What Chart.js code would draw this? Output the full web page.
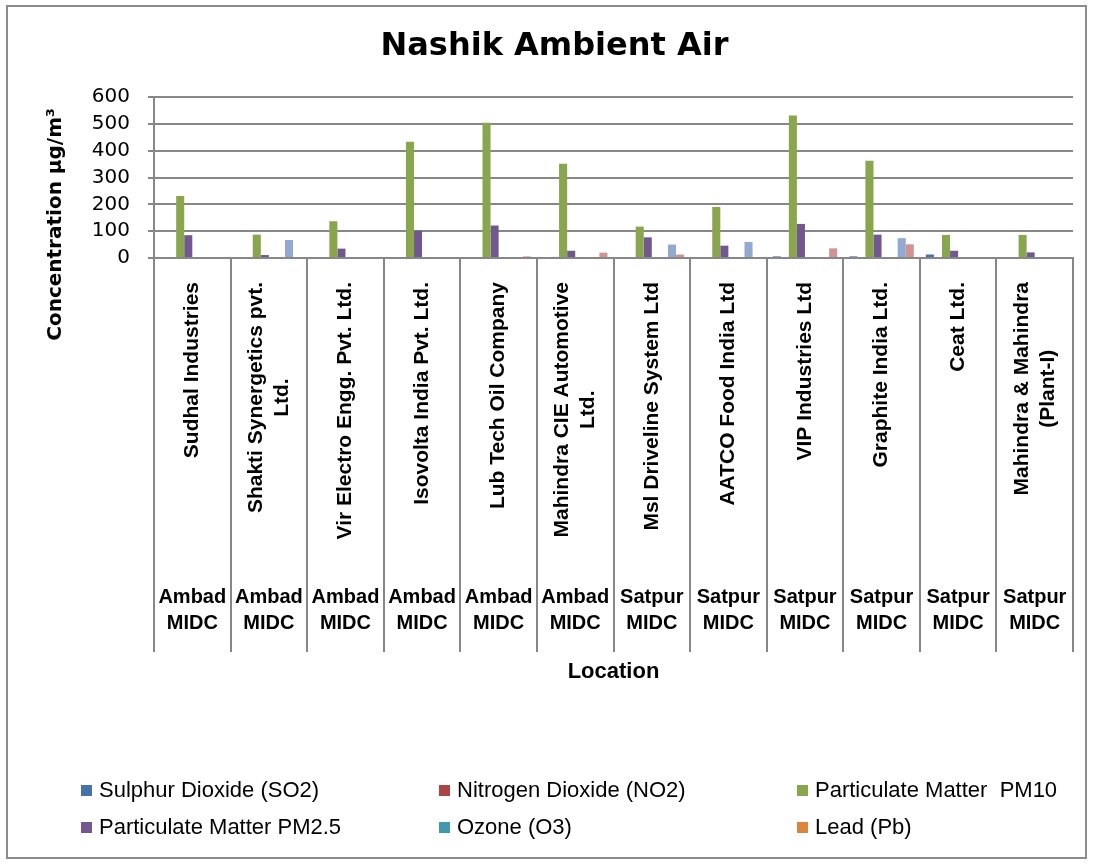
<!DOCTYPE html>
<html><head><meta charset="utf-8">
<script src="https://cdn.jsdelivr.net/npm/chart.js@4.4.1/dist/chart.umd.min.js"></script>
<style>
html,body{margin:0;padding:0;background:#fff;}
#wrap{position:relative;width:1095px;height:867px;}
#legend{position:absolute;left:0;top:0;width:1095px;height:867px;pointer-events:none;font-family:"Liberation Sans",Arial,sans-serif;font-size:22px;color:#000;}
.li{position:absolute;display:flex;align-items:center;white-space:pre;height:30px;line-height:30px;}
.sw{width:11px;height:11px;margin-right:7px;flex:none;}
</style></head>
<body><div id="wrap"><canvas id="c" width="1095" height="867"></canvas><div id="legend"></div></div>
<script>
const chartTitle = "Nashik Ambient Air";
const yTitle = "Concentration µg/m³";
const xTitle = "Location";
const categories = [
  ["Sudhal Industries"],
  ["Shakti Synergetics pvt.", "Ltd."],
  ["Vir Electro Engg. Pvt. Ltd."],
  ["Isovolta India Pvt. Ltd."],
  ["Lub Tech Oil Company"],
  ["Mahindra CIE Automotive", "Ltd."],
  ["Msl Driveline System Ltd"],
  ["AATCO Food India Ltd"],
  ["VIP Industries Ltd"],
  ["Graphite India Ltd."],
  ["Ceat Ltd."],
  ["Mahindra & Mahindra", "(Plant-I)"]
];
const locations = [
  ["Ambad", "MIDC"], ["Ambad", "MIDC"], ["Ambad", "MIDC"], ["Ambad", "MIDC"], ["Ambad", "MIDC"], ["Ambad", "MIDC"],
  ["Satpur", "MIDC"], ["Satpur", "MIDC"], ["Satpur", "MIDC"], ["Satpur", "MIDC"], ["Satpur", "MIDC"], ["Satpur", "MIDC"]
];
const seriesNames = ["Sulphur Dioxide (SO2)", "Nitrogen Dioxide (NO2)", "Particulate Matter  PM10",
  "Particulate Matter PM2.5", "Ozone (O3)", "Lead (Pb)", "Carbon Monoxide (CO)", "Ammonia (NH3)"];
const seriesColors = ["#4572A7", "#AA4643", "#89A54E", "#71588F", "#4198AF", "#DB843D", "#93A9CF", "#D19392"];
const so2   = [0, 0, 0, 0, 0, 0, 0, 0, 6, 6, 13, 0];
const no2   = [0, 0, 0, 0, 0, 4, 0, 0, 0, 0, 0, 0];
const pm10  = [231, 87, 137, 433, 504, 351, 117, 190, 531, 362, 86, 86];
const pm25  = [85, 11, 35, 102, 121, 27, 77, 46, 127, 87, 27, 21];
const o3    = [0, 0, 0, 0, 0, 0, 0, 0, 0, 0, 0, 0];
const pb    = [0, 0, 0, 0, 0, 0, 0, 0, 0, 0, 0, 0];
const co    = [0, 67, 0, 0, 0, 0, 50, 60, 0, 74, 0, 0];
const nh3   = [0, 0, 0, 0, 6, 20, 13, 0, 36, 51, 0, 0];
const yTicks = [0, 100, 200, 300, 400, 500, 600];
const legendShown = 6;

const seriesValues = [so2, no2, pm10, pm25, o3, pb, co, nh3];
const gridColor = "#878787";

const labelPlugin = {
  id: "excelLabels",
  beforeDraw(chart) {
    const ctx = chart.ctx;
    ctx.save(); ctx.fillStyle = "#fff"; ctx.fillRect(0, 0, chart.width, chart.height); ctx.restore();
  },
  afterDraw(chart) {
    const ctx = chart.ctx, xs = chart.scales.x, area = chart.chartArea;
    ctx.save();
    ctx.fillStyle = "#000";
    ctx.textBaseline = "middle";
    ctx.textAlign = "center";
    ctx.font = 'bold 21px "Liberation Sans", Arial, sans-serif';
    categories.forEach((lines, i) => {
      const cx = xs.getPixelForValue(i);
      const w = Math.max(...lines.map(l => ctx.measureText(l).width));
      ctx.save();
      ctx.translate(cx, area.bottom + 24 + w / 2);
      ctx.rotate(-Math.PI / 2);
      lines.forEach((l, j) => ctx.fillText(l, 0, (j - (lines.length - 1) / 2) * 26));
      ctx.restore();
    });
    ctx.font = 'bold 20px "Liberation Sans", Arial, sans-serif';
    locations.forEach((loc, i) => {
      const cx = xs.getPixelForValue(i);
      loc.forEach((l, j) => ctx.fillText(l, cx, area.bottom + 339 + j * 26));
    });
    ctx.font = 'bold 20px "DejaVu Sans", Verdana, sans-serif';
    ctx.save();
    ctx.translate(56, 224.5);
    ctx.rotate(-Math.PI / 2);
    ctx.fillText(yTitle, 0, 0);
    ctx.restore();
    ctx.strokeStyle = "#8c8c8c";
    ctx.lineWidth = 2;
    ctx.strokeRect(7, 6, 1079, 852);
    ctx.restore();
  }
};

Chart.defaults.font.family = '"Liberation Sans", Arial, sans-serif';
Chart.defaults.color = "#000";

new Chart(document.getElementById("c"), {
  type: "bar",
  data: {
    labels: categories,
    datasets: seriesNames.map((n, k) => ({
      label: n,
      data: seriesValues[k],
      backgroundColor: seriesColors[k],
      borderWidth: 0,
      categoryPercentage: 8 / 9.5,
      barPercentage: 1
    }))
  },
  options: {
    responsive: false,
    animation: false,
    layout: { padding: { left: 36, right: 22, top: 10, bottom: 167 } },
    plugins: {
      legend: { display: false },
      tooltip: { enabled: false },
      title: {
        display: true,
        text: chartTitle,
        color: "#000",
        font: { family: '"DejaVu Sans", Verdana, sans-serif', size: 32, weight: "bold" },
        padding: { top: 17.8, bottom: 30.8 }
      }
    },
    scales: {
      x: {
        afterFit(scale) { scale.height = 442; },
        ticks: { display: false },
        grid: { offset: true, drawOnChartArea: false, drawTicks: true, tickLength: 394, color: gridColor, lineWidth: 2 },
        border: { display: true, color: gridColor, width: 2 },
        title: {
          display: true, text: xTitle, color: "#000",
          font: { family: '"Liberation Sans", Arial, sans-serif', size: 22, weight: "bold" },
          padding: { top: 0, bottom: 14.8 }
        }
      },
      y: {
        min: 0, max: 600,
        afterFit(scale) { scale.width = 118; },
        afterBuildTicks(scale) { scale.ticks = yTicks.map(v => ({ value: v })); },
        ticks: { autoSkip: false, font: { family: '"DejaVu Sans", Verdana, sans-serif', size: 20 }, color: "#000", padding: 18 },
        grid: { color: gridColor, lineWidth: 2, tickLength: 6 },
        border: { display: true, color: gridColor, width: 2 }
      }
    }
  },
  plugins: [labelPlugin]
});

const leg = document.getElementById("legend");
for (let k = 0; k < legendShown; k++) {
  const row = Math.floor(k / 3), col = k % 3;
  const d = document.createElement("div");
  d.className = "li";
  d.style.left = (81 + col * 358) + "px";
  d.style.top = (775 + row * 37) + "px";
  const sw = document.createElement("span");
  sw.className = "sw";
  sw.style.background = seriesColors[k];
  const t = document.createElement("span");
  t.textContent = seriesNames[k];
  d.appendChild(sw); d.appendChild(t);
  leg.appendChild(d);
}
</script>
</body></html>
